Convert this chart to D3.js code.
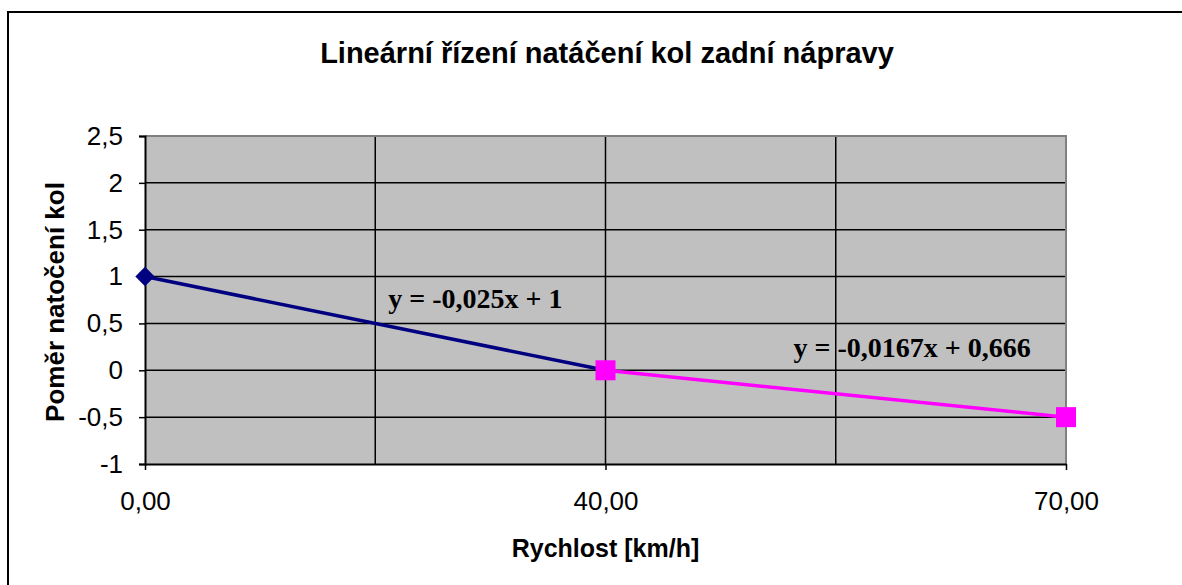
<!DOCTYPE html>
<html>
<head>
<meta charset="utf-8">
<script src="https://cdn.jsdelivr.net/npm/d3@7"></script>
<style>
  body { margin: 0; background: #fff; }
  svg { display: block; font-family: "Liberation Sans", Arial, sans-serif; }
</style>
</head>
<body>
<div id="chart"></div>
<script>
// data
var categories = ["0,00", "40,00", "70,00"]
var series1 = [ { x: "0,00", y: 1 }, { x: "40,00", y: 0 } ]
var series2 = [ { x: "40,00", y: 0 }, { x: "70,00", y: -0.5 } ]
var yTicks = [-1, -0.5, 0, 0.5, 1, 1.5, 2, 2.5]
var eq1 = "y = -0,025x + 1"
var eq2 = "y = -0,0167x + 0,666"

var width = 1182
var height = 585
var margin = { left: 145, right: 116, top: 136, bottom: 121 }

var svg = d3.select("#chart")
  .append("svg")
    .attr("width", width)
    .attr("height", height)

// outer frame (runs off right/bottom)
svg.append("rect")
  .attr("x", 8).attr("y", 12)
  .attr("width", 1300).attr("height", 700)
  .attr("fill", "#fff")
  .attr("stroke", "#000")
  .attr("stroke-width", 2)

var x = d3.scalePoint()
  .domain(categories)
  .range([margin.left, width - margin.right])

var y = d3.scaleLinear()
  .domain([-1, 2.5])
  .range([height - margin.bottom, margin.top])

var x0 = x.range()[0], x1 = x.range()[1]
var y0 = y.range()[0], y1 = y.range()[1]

// plot area
svg.append("rect")
  .attr("x", x0).attr("y", y1)
  .attr("width", x1 - x0).attr("height", y0 - y1)
  .attr("fill", "#c0c0c0")

// gridlines: horizontal
svg.append("g")
  .selectAll("line")
  .data(yTicks.slice(1))
  .enter().append("line")
    .attr("x1", x0).attr("x2", x1)
    .attr("y1", function(d){ return y(d) })
    .attr("y2", function(d){ return y(d) })
    .attr("stroke", "#000")
    .attr("stroke-width", 1.5)

// gridlines: vertical at categories and between them
var vGrid = []
categories.forEach(function(c, i){
  vGrid.push(x(c))
  if (i < categories.length - 1) vGrid.push((x(c) + x(categories[i+1])) / 2)
})
svg.append("g")
  .selectAll("line")
  .data(vGrid.slice(1, -1))
  .enter().append("line")
    .attr("x1", function(d){ return d })
    .attr("x2", function(d){ return d })
    .attr("y1", y0).attr("y2", y1)
    .attr("stroke", "#000")
    .attr("stroke-width", 1.5)

// plot border top & right
svg.append("path")
  .attr("d", "M" + x0 + "," + y1 + "H" + x1 + "V" + y0)
  .attr("fill", "none")
  .attr("stroke", "#808080")
  .attr("stroke-width", 2)

// axes
var fmt = function(d){ return String(d).replace(".", ",") }

var yAxis = svg.append("g")
  .attr("transform", "translate(" + x0 + ",0)")
  .call(d3.axisLeft(y).tickValues(yTicks).tickFormat(fmt).tickSize(6).tickPadding(16))
yAxis.select(".domain").attr("stroke", "#000").attr("stroke-width", 2)
yAxis.selectAll(".tick line").attr("stroke-width", 1.5)
yAxis.selectAll("text")
  .style("font-size", "26px")
  .style("font-family", "Liberation Sans, Arial, sans-serif")
  .attr("fill", "#000")

var xAxis = svg.append("g")
  .attr("transform", "translate(0," + y0 + ")")
  .call(d3.axisBottom(x).tickSize(6).tickPadding(22).tickSizeOuter(0))
xAxis.select(".domain").attr("stroke", "#000").attr("stroke-width", 2)
xAxis.selectAll(".tick line").attr("stroke-width", 1.5)
xAxis.selectAll("text")
  .style("font-size", "26px")
  .style("font-family", "Liberation Sans, Arial, sans-serif")
  .attr("fill", "#000")

// lines
var line = d3.line()
  .x(function(d){ return x(d.x) })
  .y(function(d){ return y(d.y) })

svg.append("path")
  .datum(series1)
  .attr("d", line)
  .attr("fill", "none")
  .attr("stroke", "#000080")
  .attr("stroke-width", 3.5)

svg.append("g")
  .selectAll("path")
  .data(series1)
  .enter().append("path")
    .attr("d", d3.symbol().type(d3.symbolDiamond2).size(240))
    .attr("transform", function(d){ return "translate(" + x(d.x) + "," + y(d.y) + ")" })
    .attr("fill", "#000080")

svg.append("path")
  .datum(series2)
  .attr("d", line)
  .attr("fill", "none")
  .attr("stroke", "#ff00ff")
  .attr("stroke-width", 3.5)

svg.append("g")
  .selectAll("rect")
  .data(series2)
  .enter().append("rect")
    .attr("x", function(d){ return x(d.x) - 10 })
    .attr("y", function(d){ return y(d.y) - 10 })
    .attr("width", 20).attr("height", 20)
    .attr("fill", "#ff00ff")

// trendline equations
svg.append("text")
  .attr("x", (x(categories[0]) + x(categories[1])) / 2 + 13)
  .attr("y", y(0.5) - 15)
  .style("font-family", "Liberation Serif, Times New Roman, serif")
  .style("font-weight", "bold")
  .style("font-size", "28px")
  .text(eq1)

svg.append("text")
  .attr("x", x(categories[1]) + 188)
  .attr("y", y(0) - 13)
  .style("font-family", "Liberation Serif, Times New Roman, serif")
  .style("font-weight", "bold")
  .style("font-size", "28px")
  .text(eq2)

// titles
svg.append("text")
  .attr("x", 607).attr("y", 63)
  .attr("text-anchor", "middle")
  .style("font-weight", "bold")
  .style("font-size", "29px")
  .text("Lineární řízení natáčení kol zadní nápravy")

svg.append("text")
  .attr("x", (x0 + x1) / 2).attr("y", 557)
  .attr("text-anchor", "middle")
  .style("font-weight", "bold")
  .style("font-size", "25px")
  .text("Rychlost [km/h]")

svg.append("text")
  .attr("transform", "translate(64," + ((y0 + y1) / 2 + 2) + ") rotate(-90)")
  .attr("text-anchor", "middle")
  .style("font-weight", "bold")
  .style("font-size", "26px")
  .text("Poměr natočení kol")
</script>
</body>
</html>
